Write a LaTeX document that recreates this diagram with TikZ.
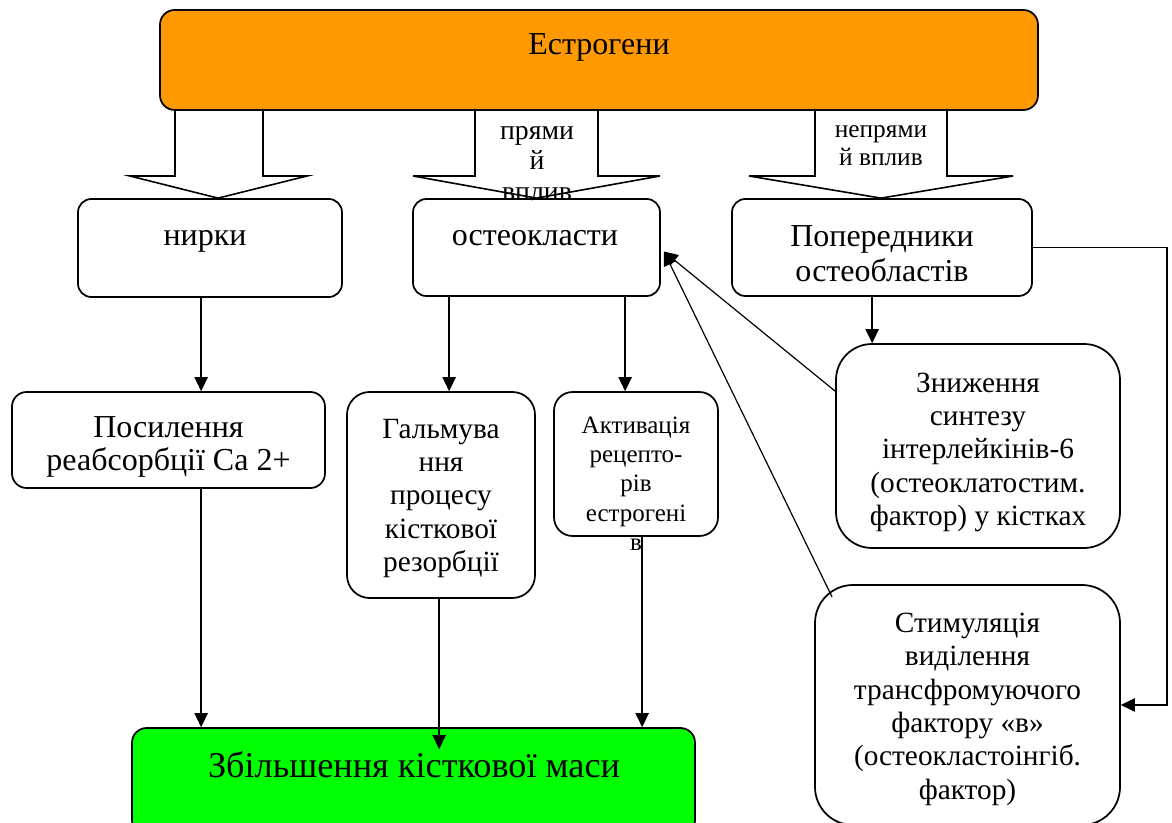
\documentclass[tikz,border=0pt]{standalone}
\usepackage{fontspec}
\setmainfont{Liberation Serif}
\usetikzlibrary{arrows.meta,calc,fit}
\definecolor{estrcol}{HTML}{FF9900}
\definecolor{zbcol}{HTML}{00FF00}
\newcommand\fone{\fontsize{24pt}{28pt}\selectfont}
\newcommand\fpop{\fontsize{24pt}{26.25pt}\selectfont}
\newcommand\fpos{\fontsize{24pt}{23.6pt}\selectfont}
\newcommand\fmain{\fontsize{22pt}{25pt}\selectfont}
\newcommand\fakt{\fontsize{18.75pt}{21.94pt}\selectfont}
\newcommand\fpr{\fontsize{20.8pt}{22.9pt}\selectfont}
\newcommand\fnpr{\fontsize{19pt}{21pt}\selectfont}
\newcommand\fbig{\fontsize{27.2pt}{31pt}\selectfont}
\begin{document}
\begin{tikzpicture}[x=0.75pt,y=-0.75pt,
  box/.style={draw, line width=1.3pt, inner sep=0pt, rounded corners=#1},
  box/.default=11pt,
  txt/.style={anchor=north, inner sep=0pt, align=center},
  conn/.style={line width=1.2pt, -{Triangle[length=10.5pt,width=10pt]}},
  diag/.style={line width=0.9pt, -{Triangle[length=10.5pt,width=10pt]}},
  blk/.style={line width=1.2pt}]
\useasboundingbox (0,0) rectangle (1172,823);
\clip (0,0) rectangle (1172,823);

% boxes
\node[box, fill=estrcol, fit={(160,10)(1038,110)}] (estr) {};
\node[box=10pt, fit={(78,199)(342,297)}] (nirky) {};
\node[box=10pt, fit={(413,199)(660,296)}] (osteo) {};
\node[box=10pt, fit={(732,199)(1032,296)}] (pop) {};
\node[box, fit={(12,392)(325,488)}] (pos) {};
\node[box=17pt, fit={(347,392)(535,598)}] (gal) {};
\node[box=14pt, fit={(554,392)(718,536)}] (akt) {};
\node[box=27pt, fit={(836,344)(1120,548)}] (zn) {};
\node[box=28.5pt, fit={(815,585)(1120,825)}] (st) {};
\node[box, fill=zbcol, fit={(132,728)(695,835)}] (zbox) {};

% block arrows
\draw[blk] (estr.south -| 175,0) -- (175,176) -- (130,176) -- (nirky.north -| 218,0) -- (307,176) -- (263,176) -- (estr.south -| 263,0);
\draw[blk] (estr.south -| 475,0) -- (475,176) -- (413,176) -- (osteo.north -| 536.5,0) -- (660,176) -- (598,176) -- (estr.south -| 598,0);
\draw[blk] (estr.south -| 815,0) -- (815,176) -- (749,176) -- (pop.north -| 881,0) -- (1013,176) -- (947,176) -- (estr.south -| 947,0);

% texts
\node[txt, font=\fone] (testr) at (599,27.9) {\strut Естрогени};
\node[txt, font=\fone] (tnirky) at (205,219.5) {\strut нирки};
\node[txt, font=\fone] (tosteo) at (535,219.5) {\strut остеокласти};
\node[txt, font=\fpop] (tpop) at (882,221.5) {\strut Попередники\\остеобластів};
\node[txt, font=\fpos] (tpos) at (168.5,415) {\strut Посилення\\реабсорбції Ca 2+};
\node[txt, font=\fmain] (tgal) at (441,414.5) {\strut Гальмува\\ння\\процесу\\кісткової\\резорбції};
\node[txt, font=\fakt] (takt) at (636,412.5) {\strut Активація\\рецепто-\\рів\\естрогені\\в};
\node[txt, font=\fmain] (tzn) at (978,368.7) {\strut Зниження\\синтезу\\інтерлейкінів-6\\(остеоклатостим.\\фактор) у кістках};
\node[txt, font=\fmain] (tst) at (967.5,608.9) {\strut Стимуляція\\виділення\\трансфромуючого\\фактору «в»\\(остеокластоінгіб.\\фактор)};
\node[txt, font=\fpr] (tpr) at (537,117.6) {\strut прями\\й\\вплив};
\node[txt, font=\fnpr] (tnpr) at (881,117.4) {\strut непрями\\й вплив};
\node[txt, font=\fbig] (tzb) at (414,748) {\strut Збільшення кісткової маси};

% connectors
\draw[conn] ($(nirky.south west)+(124,0)$) coordinate (n1) -- (n1 |- pos.north);
\draw[conn] (n1 |- pos.south) -- (n1 |- zbox.north);
\draw[conn] ($(osteo.south west)+(37,0)$) coordinate (o1) -- (o1 |- gal.north);
\draw[conn] ($(osteo.south west)+(213,0)$) coordinate (o2) -- (o2 |- akt.north);
\draw[conn] ($(gal.south west)+(93,0)$) coordinate (g1) -- ($(g1 |- zbox.north)+(0,22)$);
\draw[conn] ($(akt.south west)+(89,0)$) coordinate (a1) -- (a1 |- zbox.north);
\draw[conn] ($(pop.south west)+(141,0)$) coordinate (p1) -- (p1 |- zn.north);
\draw[conn] (pop.east) -- ++(134,0) |- (st.east);
\draw[diag] ($(zn.north west)+(0,48)$) -- ($(osteo.east)+(3,4)$);
\draw[diag] ($(st.north west)+(18,13)$) -- ($(osteo.east)+(3,4)$);
\end{tikzpicture}
\end{document}
